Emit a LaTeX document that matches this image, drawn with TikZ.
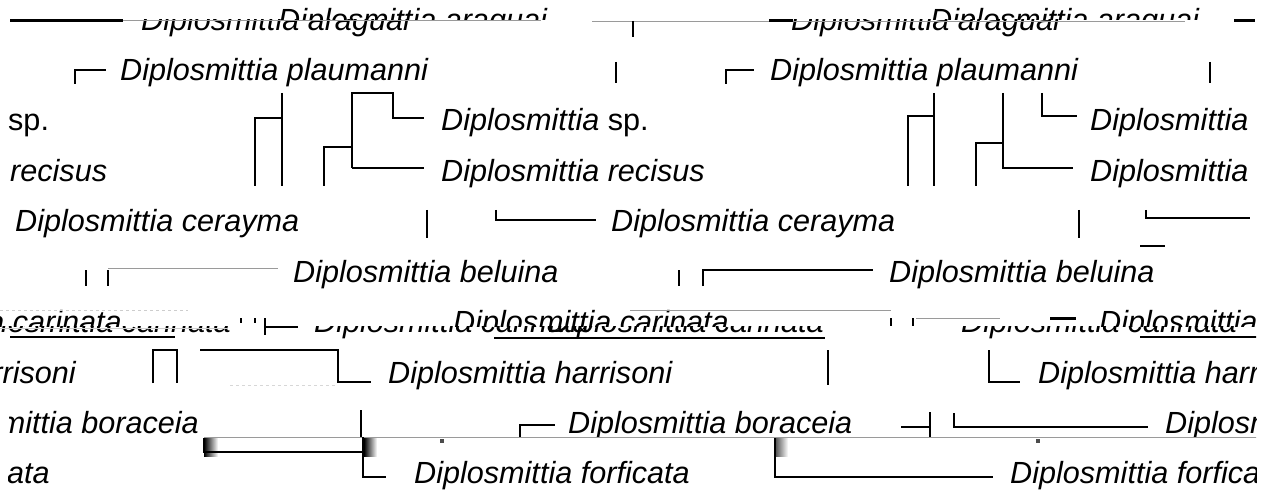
\documentclass[tikz,border=0pt]{standalone}
\usepackage{fontspec}
\setmainfont{Liberation Sans}
\usepackage{tikz}
\usetikzlibrary{positioning}
\definecolor{GhostGrey}{HTML}{9A9A9A}

\begin{document}
\begin{tikzpicture}[x=1pt, y=-1pt,
    taxon/.style={font=\fontsize{30.6}{36}\selectfont\itshape, anchor=base west, inner sep=0pt},
    branch/.style={line width=2pt},
    ghost/.style={GhostGrey, line width=0.9pt}]
      \useasboundingbox (0,0) rectangle (1272,497);
      \fill[white] (0,0) rectangle (1272,497);
      \clip (0,0) rectangle (1256,497);
      %% Row 0 -- araguai, sliced at y=20
      \draw[line width=3pt] (10,21) -- (123,21);
      \begin{scope}
        \clip (0,20) rectangle (1272,45);
        \node[taxon] (ara1) at (141,31) {Diplosmittia araguai};
        \node[taxon] (ara3) at (791,31) {Diplosmittia araguai};
      \end{scope}
      \begin{scope}
        \clip (0,0) rectangle (1272,20);
        \node[taxon] (ara2) at (278,31) {Diplosmittia araguai};
        \node[taxon] (ara4) at (930,31) {Diplosmittia araguai};
      \end{scope}
      \draw[ghost] (123,20) -- (541,20);
      \draw[ghost] (592,21) -- (1185,21);
      \draw[branch] (633,21) -- (633,37);
      \draw[line width=3pt] (769,21) -- (793,21);
      \draw[line width=3pt] (1234,21) -- (1255,21);
      %% Row 1 -- plaumanni
      \draw[branch] (75,84) |- (106,70);
      \node[taxon] (pla1) at (120,81) {Diplosmittia plaumanni};
      \draw[branch] (616,62) -- (616,83);
      \draw[branch] (726,84) |- (754,70);
      \node[taxon] (pla2) at (770,81) {Diplosmittia plaumanni};
      \draw[branch] (1210,62) -- (1210,83);
      %% Rows 2-3 -- sp. and recisus
      \node[taxon, font=\fontsize{30.6}{36}\selectfont] (sp0) at (8,131) {sp.};
      \node[taxon] (rec0) at (10,182) {recisus};
      \draw[branch] (282,93) -- (282,186);
      \draw[branch] (255,186) |- (282,118);
      \draw[branch] (352,168) -- (352,93) -| (393,118) -- (424,118);
      \draw[branch] (324,186) |- (352,147);
      \draw[branch] (352,168) -- (424,168);
      \node[taxon] (sp1) at (441,131) {Diplosmittia \upshape sp.};
      \node[taxon] (rec1) at (441,182) {Diplosmittia recisus};
      \draw[branch] (934,93) -- (934,186);
      \draw[branch] (908,186) |- (934,116);
      \draw[branch] (1003,93) |- (1073,168);
      \draw[branch] (976,186) |- (1003,143);
      \draw[branch] (1042,93) |- (1077,116);
      \node[taxon] (sp2) at (1090,131) {Diplosmittia};
      \node[taxon] (rec2) at (1090,182) {Diplosmittia};
      %% Row 4 -- cerayma
      \node[taxon] (cer0) at (15,232) {Diplosmittia cerayma};
      \draw[branch] (427,210) -- (427,238);
      \draw[branch] (496,210) |- (596,220);
      \node[taxon] (cer1) at (611,232) {Diplosmittia cerayma};
      \draw[branch] (1079,210) -- (1079,238);
      \draw[branch] (1146,210) |- (1250,218);
      \draw[branch] (1140,246) -- (1165,246);
      %% Row 5 -- beluina
      \draw[branch] (86,270) -- (86,286);
      \draw[branch] (108,270) -- (108,286);
      \draw[ghost] (108,268) -- (278,268);
      \node[taxon] (bel1) at (293,282) {Diplosmittia beluina};
      \draw[branch] (679,270) -- (679,286);
      \draw[branch] (703,286) |- (873,270);
      \node[taxon] (bel2) at (889,282) {Diplosmittia beluina};
      %% Row 6 -- carinata, sliced at y=326
      \begin{scope}
        \clip (0,300) rectangle (1272,326);
        \node[taxon] (car1) at (-154,332) {Diplosmittia carinata};
        \node[taxon] (car3) at (453,332) {Diplosmittia carinata};
        \node[taxon] (car5) at (1099,332) {Diplosmittia carinata};
      \end{scope}
      \begin{scope}
        \clip (0,326) rectangle (1272,345);
        \node[taxon] (car2) at (-45,332) {Diplosmittia carinata};
        \node[taxon] (car4) at (314,332) {Diplosmittia carinata};
        \node[taxon] (car6) at (548,332) {Diplosmittia carinata};
        \node[taxon] (car7) at (961,332) {Diplosmittia carinata};
      \end{scope}
      \draw[ghost, GhostGrey!50, dashed] (0,310) -- (188,310);
      \draw[ghost, GhostGrey!50] (0,328) -- (228,328);
      \draw[ghost] (630,310) -- (891,310);
      \draw[ghost] (916,318) -- (1000,318);
      \draw[line width=1.2pt] (241,318) -- (241,323);
      \draw[line width=1.2pt] (255,318) -- (255,323);
      \draw[branch] (265,318) -- (265,335);
      \draw[branch] (265,327) -- (298,327);
      \draw[line width=1.2pt] (891,318) -- (891,326);
      \draw[line width=1.2pt] (913,318) -- (913,326);
      \draw[line width=3pt] (1050,318) -- (1076,318);
      \draw[line width=2.5pt] (10,337) -- (175,337);
      \draw[line width=2.5pt] (494,338) -- (825,338);
      \draw[line width=2.5pt] (1140,337) -- (1262,337);
      %% Row 7 -- harrisoni
      \node[taxon, anchor=base east] (har0) at (76,383) {Diplosmittia harrisoni};
      \draw[branch] (153,383) -- (153,350) -- (177,350) -- (177,383);
      \draw[branch] (200,350) -| (338,382) -- (371,382);
      \draw[ghost, GhostGrey!40, dashed] (230,385) -- (336,385);
      \node[taxon] (har1) at (388,383) {Diplosmittia harrisoni};
      \draw[branch] (828,350) -- (828,385);
      \draw[branch] (989,350) |- (1020,382);
      \node[taxon] (har2) at (1038,383) {Diplosmittia harrisoni};
      %% Row 8 -- boraceia
      \node[taxon, anchor=base east] (bor0) at (199,433) {Diplosmittia boraceia};
      \fill[white] (0,400) rectangle (9,440);
      \draw[branch] (361,410) -- (361,437);
      \draw[branch] (520,437) |- (555,425);
      \node[taxon] (bor1) at (568,433) {Diplosmittia boraceia};
      \draw[branch] (901,427) -- (930,427);
      \draw[branch] (930,412) -- (930,437);
      \draw[branch] (954,413) |- (1148,427);
      \node[taxon] (bor2) at (1165,433) {Diplosmittia boraceia};
      \fill[white] (204,437) rectangle (1256,460);
      \draw[ghost] (204,437) -- (1258,437);
      \shade[left color=black, right color=white] (204,438) rectangle (218,456);
      \shade[left color=black, right color=white] (364,438) rectangle (377,456);
      \shade[left color=black!70, right color=white] (775,438) rectangle (788,456);
      \fill[black!70] (440,439) rectangle (444,443);
      \fill[black!70] (1036,439) rectangle (1040,443);
      %% Row 9 -- forficata
      \draw[branch] (204,438) -- (204,452) -- (363,452);
      \draw[branch] (363,437) |- (386,477);
      \node[taxon, anchor=base east] (for0) at (50,483) {Diplosmittia forficata};
      \fill[white] (0,455) rectangle (8,497);
      \node[taxon] (for1) at (414,483) {Diplosmittia forficata};
      \draw[branch] (775,438) |- (993,477);
      \node[taxon] (for2) at (1010,483) {Diplosmittia forficata};
\end{tikzpicture}
\end{document}
